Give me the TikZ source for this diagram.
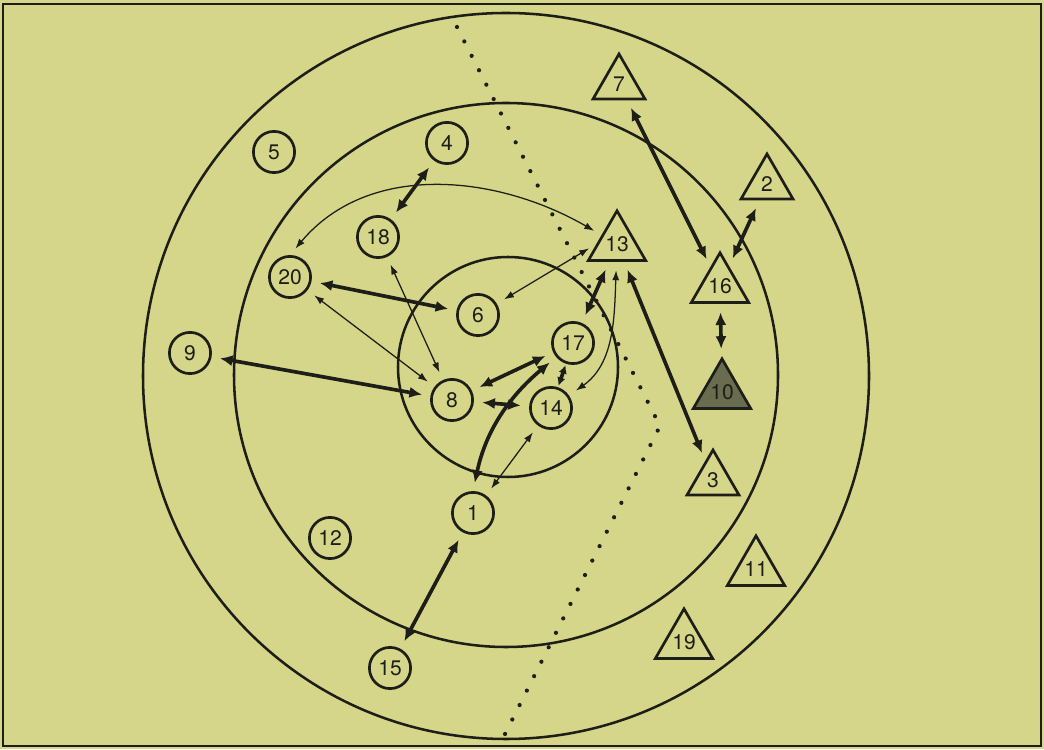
\documentclass[tikz,border=0pt]{standalone}
\usepackage{fontspec}
\setmainfont{TeX Gyre Heros}
\usetikzlibrary{shapes.geometric,arrows.meta}
\definecolor{paper}{RGB}{213,214,138}
\definecolor{ink}{RGB}{30,30,24}
\definecolor{shade}{RGB}{105,108,78}
\begin{document}
\begin{tikzpicture}[x=0.025cm,y=0.025cm,
  circ/.style={circle,draw=ink,line width=1.9pt,minimum size=1.03cm,inner sep=0pt,
    font=\fontsize{15}{17}\selectfont,text=ink},
  tri/.style={regular polygon,regular polygon sides=3,draw=ink,line width=1.9pt,
    minimum size=1.5cm,inner sep=0pt,font=\fontsize{15}{17}\selectfont,text=ink},
  ring/.style={draw=ink,line width=1.8pt},
  divide/.style={draw=ink,line width=3pt,line cap=round,dash pattern=on 0pt off 11.5pt},
  heavy/.style={draw=ink,line width=2.6pt,
    {Latex[length=9pt,width=8pt]}-{Latex[length=9pt,width=8pt]},shorten <=6pt,shorten >=6pt},
  light/.style={draw=ink,line width=0.9pt,
    {Latex[length=7pt,width=5pt]}-{Latex[length=7pt,width=5pt]},shorten <=6pt,shorten >=6pt}]
  \fill[paper](0,0) rectangle (1044,749);
  \draw[ink,line width=1.6pt](3,3) rectangle (1041,745);
  % zones
  \draw[ring](506,373) circle (363);
  \draw[ring](506,374) circle (272);
  \draw[ring](508,382) circle (110);
  \draw[divide](457,722)--(660,323)--(503,11);
  % circles
  \node[circ](n5) at (274,597){5};
  \node[circ](n4) at (447,606){4};
  \node[circ](n18) at (378,512){18};
  \node[circ](n20) at (290,472){20};
  \node[circ](n6) at (478,434){6};
  \node[circ](n9) at (190,396){9};
  \node[circ](n8) at (452,349){8};
  \node[circ](n17) at (573,406){17};
  \node[circ](n14) at (551,341){14};
  \node[circ](n1) at (473,236){1};
  \node[circ](n12) at (330,211){12};
  \node[circ](n15) at (390,81){15};
  % triangles
  \node[tri](n7) at (619,665){7};
  \node[tri](n2) at (767,565){2};
  \node[tri](n13) at (617,505){13};
  \node[tri](n16) at (720,463){16};
  \node[tri,fill=shade](n10) at (722,357){10};
  \node[tri](n3) at (713,269){3};
  \node[tri](n11) at (756,180){11};
  \node[tri](n19) at (684,107){19};
  % strong ties
  \draw[heavy](n4)--(n18);
  \draw[heavy](n20)--(n6);
  \draw[heavy](n9)--(n8);
  \draw[heavy](n8)--(n17);
  \draw[heavy](n8)--(n14);
  \draw[heavy,shorten <=1pt,shorten >=1pt,
    {Latex[length=6pt,width=6pt]}-{Latex[length=6pt,width=6pt]}](n17)--(n14);
  \draw[heavy](n1.north) to[out=78,in=220] (n17);
  \draw[heavy](n13)--(n17);
  \draw[heavy](n13)--(n3);
  \draw[heavy](n7)--(n16);
  \draw[heavy](n2)--(n16);
  \draw[heavy](n16)--(n10);
  \draw[heavy](n1)--(n15);
  % weak ties
  \draw[light](n20.north) to[out=50,in=150] (n13);
  \draw[light](n13.west)--(n6);
  \draw[light](n20)--(n8);
  \draw[light](n18)--(n8);
  \draw[light](n13) to[out=268,in=35] (n14);
  \draw[light](n14)--(n1);
\end{tikzpicture}
\end{document}
